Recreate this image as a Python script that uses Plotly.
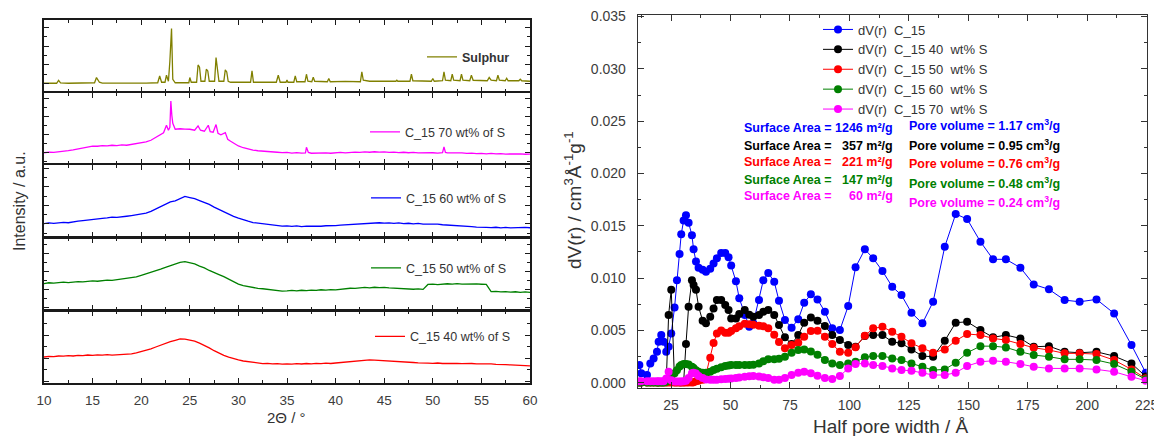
import plotly.graph_objects as go

# ------------------------------------------------------------------
# Left panel : XRD patterns (2-theta in degrees, intensity in a.u.)
# ------------------------------------------------------------------
TWO_THETA = [10.0, 10.5, 11.0, 11.5, 12.0, 12.5, 13.0, 13.5, 14.0, 14.5,
             15.0, 15.5, 16.0, 16.5, 17.0, 17.5, 18.0, 18.5, 19.0, 19.5,
             20.0, 20.5, 21.0, 21.5, 22.0, 22.5, 23.0, 23.5, 24.0, 24.5,
             25.0, 25.5, 26.0, 26.5, 27.0, 27.5, 28.0, 28.5, 29.0, 29.5,
             30.0, 30.5, 31.0, 31.5, 32.0, 32.5, 33.0, 33.5, 34.0, 34.5,
             35.0, 35.5, 36.0, 36.5, 37.0, 37.5, 38.0, 38.5, 39.0, 39.5,
             40.0, 40.5, 41.0, 41.5, 42.0, 42.5, 43.0, 43.5, 44.0, 44.5,
             45.0, 45.5, 46.0, 46.5, 47.0, 47.5, 48.0, 48.5, 49.0, 49.5,
             50.0, 50.5, 51.0, 51.5, 52.0, 52.5, 53.0, 53.5, 54.0, 54.5,
             55.0, 55.5, 56.0, 56.5, 57.0, 57.5, 58.0, 58.5, 59.0, 59.5,
             60.0]

I_60WT = [13.2, 13.9, 13.4, 14.1, 14.4, 14.0, 15.0, 15.6, 16.2, 16.9,
          17.3, 18.1, 18.4, 18.9, 19.6, 19.3, 20.2, 20.5, 21.2, 21.8,
          22.6, 23.6, 25.4, 27.9, 30.2, 32.6, 34.8, 35.9, 38.0, 40.3,
          39.2, 38.1, 36.2, 34.5, 32.3, 29.6, 27.2, 25.1, 22.7, 20.4,
          18.7, 16.8, 15.6, 14.2, 13.7, 12.8, 12.4, 11.6, 11.3, 10.7,
          10.9, 10.4, 10.8, 10.2, 10.6, 10.4, 10.9, 10.5, 11.0, 10.7,
          11.1, 11.6, 11.9, 12.3, 12.6, 13.1, 13.4, 13.8, 13.5, 14.0,
          13.6, 13.9, 13.4, 13.8, 13.2, 13.5, 12.9, 13.3, 12.7, 12.9,
          12.4, 12.6, 12.0, 11.8, 11.4, 11.0, 10.7, 10.3, 10.1, 9.7,
          9.8, 9.4, 9.1, 9.5, 8.9, 9.3, 8.8, 9.2, 8.9, 9.3,
          9.0]

I_50WT = [26.2, 27.0, 26.6, 27.3, 27.6, 27.1, 27.9, 28.2, 27.8, 28.6,
          28.9, 28.5, 29.3, 29.7, 29.4, 30.1, 30.5, 30.9, 31.6, 32.8,
          34.3, 35.7, 37.4, 38.8, 40.6, 42.3, 44.2, 45.6, 47.4, 48.1,
          47.2, 45.8, 43.6, 41.9, 39.3, 37.6, 35.2, 33.1, 30.4, 27.8,
          25.6, 24.1, 23.0, 22.3, 21.4, 21.0, 20.3, 19.7, 19.4, 18.7,
          18.9, 19.3, 18.8, 19.5, 19.2, 19.7, 19.4, 20.0, 19.6, 20.2,
          19.9, 20.6, 20.9, 21.5, 21.3, 22.0, 22.3, 21.9, 22.5, 22.1,
          22.4, 21.8, 21.5, 21.2, 20.9, 21.1, 20.5, 20.8, 20.4, 25.3,
          25.7, 25.2, 25.8, 26.0, 25.6, 26.1, 25.7, 25.9, 25.4, 25.8,
          25.5, 25.3, 18.1, 18.4, 17.9, 18.2, 17.6, 18.0, 17.4, 17.8,
          17.3]

I_40WT = [26.0, 26.7, 26.3, 27.0, 26.8, 27.4, 27.0, 27.6, 27.3, 28.0,
          27.7, 28.2, 27.8, 28.4, 27.9, 28.3, 28.1, 28.7, 29.2, 30.1,
          31.4, 32.6, 34.2, 36.0, 37.9, 39.8, 41.3, 42.7, 44.1, 43.8,
          43.2, 41.9, 39.8, 37.6, 35.1, 32.3, 29.8, 27.6, 25.9, 24.3,
          23.1, 22.0, 21.2, 20.4, 19.9, 19.4, 19.6, 19.1, 19.4, 18.9,
          19.2, 18.8, 19.3, 19.0, 19.5, 19.1, 19.6, 19.3, 19.8, 19.5,
          20.0, 20.4, 20.7, 21.2, 21.6, 22.4, 22.2, 23.1, 22.8, 22.6,
          22.3, 22.0, 21.4, 21.6, 21.0, 20.8, 20.5, 20.2, 20.4, 19.9,
          19.7, 20.0, 19.5, 19.8, 19.4, 19.7, 19.3, 19.6, 19.5, 19.1,
          19.3, 18.9, 19.1, 18.6, 18.8, 18.3, 18.1, 17.8, 17.6, 17.4,
          17.2]

THETA_70WT = [10.0, 10.5, 11.0, 11.5, 12.0, 12.5, 13.0, 13.5, 14.0, 14.5,
              15.0, 15.5, 16.0, 16.5, 17.0, 17.5, 18.0, 18.5, 19.0, 19.5,
              20.0, 20.5, 21.0, 21.5, 22.0, 22.3, 22.6, 22.8, 22.95, 23.05,
              23.15, 23.25, 23.5, 24.0, 24.5, 25.0, 25.5, 25.85, 26.1, 26.5,
              26.9, 27.1, 27.4, 27.7, 27.9, 28.2, 28.65, 28.9, 29.2, 29.5,
              30.0, 30.5, 31.0, 31.5, 32.0, 32.5, 33.0, 33.5, 34.0, 34.5,
              35.0, 35.5, 36.0, 36.5, 36.9, 37.0, 37.2, 37.5, 38.0, 38.5,
              39.0, 39.5, 40.0, 40.5, 41.0, 41.5, 42.0, 42.5, 43.0, 43.5,
              44.0, 44.5, 45.0, 45.5, 46.0, 46.5, 47.0, 47.5, 48.0, 48.5,
              49.0, 49.5, 50.0, 50.5, 51.0, 51.15, 51.3, 51.5, 52.0, 52.5,
              53.0, 53.5, 54.0, 54.5, 55.0, 55.5, 56.0, 56.5, 57.0, 57.5,
              58.0, 58.5, 59.0, 59.5, 60.0]
I_70WT = [10.5, 11.2, 10.9, 11.7, 12.0, 12.6, 13.3, 14.2, 15.0, 16.1,
          17.2, 17.0, 17.6, 17.3, 18.0, 17.7, 18.3, 18.0, 18.8, 19.5,
          20.6, 21.4, 23.0, 25.8, 29.0, 30.5, 38.0, 33.0, 36.0, 62.3,
          48.0, 40.0, 34.0, 34.5, 34.2, 34.0, 33.0, 37.3, 33.0, 32.0,
          38.0, 31.5, 31.0, 38.7, 30.0, 28.5, 30.7, 24.0, 22.0, 20.2,
          17.3, 15.5, 14.0, 13.2, 12.5, 12.3, 11.8, 11.2, 11.0, 10.6,
          10.8, 10.2, 10.6, 10.1, 10.4, 16.0, 10.8, 10.0, 10.3, 9.9,
          10.4, 10.0, 10.5, 10.8, 10.4, 10.9, 11.2, 10.8, 11.4, 11.0,
          11.5, 11.1, 11.4, 10.9, 11.2, 10.7, 11.0, 10.5, 10.8, 10.3,
          10.6, 10.2, 10.5, 10.1, 10.6, 16.3, 10.8, 10.3, 10.5, 10.0,
          10.3, 9.8, 10.2, 9.6, 9.9, 9.4, 9.8, 9.3, 9.7, 9.2,
          9.5, 9.1, 9.4, 9.0, 9.2]

THETA_S = [10.0, 10.8, 11.3, 11.5, 11.7, 12.5, 13.4, 14.2, 15.2, 15.4,
           15.7, 16.0, 17.5, 19.0, 20.5, 21.7, 21.9, 22.1, 22.45, 22.6,
           22.8, 22.95, 23.05, 23.12, 23.25, 23.5, 24.9, 25.0, 25.15, 25.7,
           25.85, 26.0, 26.15, 26.55, 26.7, 26.85, 27.0, 27.55, 27.7, 27.85,
           28.0, 28.5, 28.65, 28.8, 28.95, 29.2, 31.25, 31.4, 31.55, 33.9,
           34.1, 34.3, 34.9, 35.0, 35.1, 35.7, 35.85, 36.0, 36.85, 37.0,
           37.15, 37.55, 37.7, 37.85, 39.15, 39.3, 39.45, 41.0, 42.55, 42.7,
           42.85, 43.5, 45.0, 46.2, 46.3, 46.4, 47.65, 47.8, 47.95, 49.85,
           50.0, 50.15, 51.0, 51.15, 51.3, 51.85, 52.0, 52.15, 52.8, 52.95,
           53.1, 53.8, 53.97, 54.15, 55.6, 55.8, 56.0, 56.55, 56.7, 56.85,
           57.45, 57.6, 57.75, 58.85, 59.0, 59.15, 60.0]
I_S = [8.0, 8.3, 8.0, 10.8, 8.4, 8.0, 8.3, 7.9, 8.5, 13.7,
       9.0, 8.2, 8.0, 8.3, 8.1, 8.5, 15.3, 9.0, 9.0, 16.0,
       10.0, 30.0, 45.3, 62.7, 12.0, 8.5, 8.5, 13.7, 9.0, 9.0,
       26.3, 24.0, 10.0, 10.0, 22.0, 20.3, 10.0, 10.0, 33.7, 22.0,
       10.0, 10.0, 21.3, 19.3, 10.0, 9.0, 9.0, 20.3, 9.0, 9.0,
       16.0, 9.0, 9.0, 11.3, 9.0, 9.0, 15.3, 9.5, 9.5, 17.0,
       10.0, 9.5, 14.0, 10.0, 9.5, 12.7, 9.5, 9.8, 9.5, 19.3,
       11.0, 10.0, 9.8, 10.0, 11.0, 10.0, 10.0, 17.0, 10.5, 10.0,
       12.7, 10.0, 10.5, 19.3, 11.0, 10.5, 17.0, 11.0, 10.5, 17.0,
       11.0, 10.5, 16.0, 11.0, 10.5, 13.7, 11.0, 10.5, 16.0, 11.0,
       10.5, 13.0, 10.5, 10.5, 12.0, 10.5, 10.0]

XRD_LABELS = ["Sulphur", "C_15 70 wt% of S", "C_15 60 wt% of S",
              "C_15 50 wt% of S", "C_15 40 wt% of S"]

# ------------------------------------------------------------------
# Right panel : pore size distributions dV(r)
# ------------------------------------------------------------------
HALF_PORE_WIDTH = [11.7, 12.5, 14.9, 16.3, 17.7, 19.1, 19.8, 20.9, 21.9, 23.0,
                   24.0, 25.1, 26.5, 27.5, 28.6, 29.3, 30.3, 31.3, 32.4, 33.8,
                   34.5, 35.5, 36.6, 38.3, 39.7, 41.5, 42.9, 44.3, 46.1, 47.8,
                   49.2, 50.3, 52.3, 53.7, 56.0, 57.9, 59.6, 62.0, 63.8, 65.9,
                   68.4, 70.4, 72.9, 75.7, 78.5, 81.0, 83.8, 86.6, 89.7, 92.8,
                   96.0, 99.5, 102.6, 106.5, 110.0, 113.9, 118.0, 121.9, 126.1, 130.7,
                   135.2, 140.1, 144.7, 149.5, 155.1, 160.4, 165.8, 171.9, 177.5, 183.9,
                   190.5, 196.8, 203.9, 211.3, 218.6, 224.6]

DV_C15 = [0.00169, 0.00090, 0.00074, 0.00185, 0.00233, 0.00296, 0.00392, 0.00456, 0.00392, 0.00296,
          0.00344, 0.00472, 0.00720, 0.00980, 0.01230, 0.01420, 0.01550, 0.01600, 0.01530, 0.01410,
          0.01275, 0.01160, 0.01100, 0.01080, 0.01060, 0.01090, 0.01140, 0.01190, 0.01240, 0.01240,
          0.01200, 0.01120, 0.00970, 0.00807, 0.00647, 0.00535, 0.00570, 0.00790, 0.00980, 0.01050,
          0.00966, 0.00784, 0.00600, 0.00526, 0.00606, 0.00765, 0.00845, 0.00797, 0.00679, 0.00520,
          0.00504, 0.00733, 0.01103, 0.01275, 0.01190, 0.01068, 0.00918, 0.00838, 0.00669, 0.00568,
          0.00774, 0.01300, 0.01613, 0.01565, 0.01348, 0.01180, 0.01180, 0.01100, 0.00940, 0.00893,
          0.00790, 0.00774, 0.00797, 0.00663, 0.00360, 0.00096]

DV_40WT = [0.00005, 0.00005, 0.00005, 0.00005, 0.00005, 0.00005, 0.00005, 0.00005, 0.00005, 0.00005,
           0.00647, 0.00890, 0.00005, 0.00005, 0.00005, 0.00005, 0.00005, 0.00370, 0.00727, 0.00980,
           0.00934, 0.00890, 0.00727, 0.00593, 0.00568, 0.00630, 0.00710, 0.00790, 0.00790, 0.00743,
           0.00695, 0.00615, 0.00615, 0.00657, 0.00695, 0.00650, 0.00630, 0.00647, 0.00679, 0.00695,
           0.00647, 0.00552, 0.00434, 0.00370, 0.00456, 0.00574, 0.00625, 0.00593, 0.00542, 0.00456,
           0.00408, 0.00360, 0.00344, 0.00446, 0.00456, 0.00456, 0.00392, 0.00377, 0.00319, 0.00255,
           0.00249, 0.00402, 0.00574, 0.00583, 0.00504, 0.00434, 0.00456, 0.00424, 0.00344, 0.00350,
           0.00296, 0.00287, 0.00296, 0.00255, 0.00185, 0.00060]

DV_50WT = [0.00003, 0.00003, 0.00003, 0.00003, 0.00003, 0.00003, 0.00003, 0.00003, 0.00003, 0.00003,
           0.00003, 0.00003, 0.00003, 0.00003, 0.00003, 0.00003, 0.00003, 0.00003, 0.00003, 0.00003,
           0.00005, 0.00015, 0.00020, 0.00030, 0.00080, 0.00240, 0.00380, 0.00472, 0.00500, 0.00478,
           0.00478, 0.00495, 0.00520, 0.00540, 0.00565, 0.00560, 0.00555, 0.00545, 0.00540, 0.00520,
           0.00460, 0.00390, 0.00329, 0.00360, 0.00382, 0.00440, 0.00495, 0.00497, 0.00440, 0.00370,
           0.00296, 0.00287, 0.00340, 0.00450, 0.00520, 0.00535, 0.00488, 0.00440, 0.00377, 0.00329,
           0.00287, 0.00319, 0.00402, 0.00466, 0.00456, 0.00424, 0.00408, 0.00370, 0.00335, 0.00313,
           0.00281, 0.00281, 0.00274, 0.00217, 0.00128, 0.00042]

DV_60WT = [0.00002, 0.00002, 0.00002, 0.00002, 0.00002, 0.00002, 0.00002, 0.00002, 0.00002, 0.00010,
           0.00030, 0.00050, 0.00090, 0.00120, 0.00155, 0.00170, 0.00179, 0.00180, 0.00175, 0.00153,
           0.00140, 0.00120, 0.00105, 0.00096, 0.00095, 0.00105, 0.00121, 0.00135, 0.00148, 0.00160,
           0.00165, 0.00169, 0.00169, 0.00169, 0.00169, 0.00169, 0.00172, 0.00185, 0.00205, 0.00224,
           0.00224, 0.00230, 0.00249, 0.00287, 0.00313, 0.00319, 0.00300, 0.00268, 0.00217, 0.00185,
           0.00169, 0.00185, 0.00200, 0.00243, 0.00255, 0.00255, 0.00233, 0.00217, 0.00185, 0.00153,
           0.00121, 0.00128, 0.00191, 0.00287, 0.00350, 0.00350, 0.00338, 0.00296, 0.00265, 0.00249,
           0.00224, 0.00224, 0.00217, 0.00179, 0.00105, 0.00033]

DV_70WT = [0.00015, 0.00015, 0.00015, 0.00015, 0.00015, 0.00015, 0.00015, 0.00015, 0.00015, 0.00040,
           0.00105, 0.00025, 0.00012, 0.00012, 0.00012, 0.00012, 0.00015, 0.00020, 0.00045, 0.00090,
           0.00096, 0.00088, 0.00065, 0.00045, 0.00032, 0.00030, 0.00030, 0.00030, 0.00033, 0.00035,
           0.00038, 0.00040, 0.00045, 0.00050, 0.00058, 0.00062, 0.00064, 0.00060, 0.00052, 0.00045,
           0.00030, 0.00030, 0.00045, 0.00074, 0.00096, 0.00105, 0.00092, 0.00066, 0.00045, 0.00035,
           0.00064, 0.00137, 0.00180, 0.00185, 0.00169, 0.00160, 0.00137, 0.00121, 0.00115, 0.00096,
           0.00074, 0.00074, 0.00096, 0.00160, 0.00201, 0.00210, 0.00201, 0.00179, 0.00153, 0.00137,
           0.00137, 0.00137, 0.00128, 0.00105, 0.00057, 0.00020]

PSD_LABELS = ["dV(r)  C_15", "dV(r)  C_15 40  wt% S", "dV(r)  C_15 50  wt% S",
              "dV(r)  C_15 60  wt% S", "dV(r)  C_15 70  wt% S"]
SURFACE_AREA = ["1246", "357", "221", "147", "60"]
PORE_VOLUME = ["1.17", "0.95", "0.76", "0.48", "0.24"]

COLORS = ["#0000ff", "#000000", "#ff0000", "#008000", "#ff00ff"]
FONT = "Liberation Sans, Arial, sans-serif"

# The page body keeps its default 8 px margin, so the figure is drawn
# 8 px right/down of the window corner; positions below are given in
# window pixels and converted to paper fractions.
OFF = 8
W, H = 1162 - OFF, 436 - OFF


def px(x):
    return (x - OFF) / W


def py(y):
    return 1 - (y - OFF) / H


fig = go.Figure()

# ---------------- left panel traces ----------------
xrd = [
    (THETA_S, I_S, "#808000", "x5", "y5", "legend6"),
    (THETA_70WT, I_70WT, "#ff00ff", "x4", "y4", "legend5"),
    (TWO_THETA, I_60WT, "#0000ff", "x3", "y3", "legend4"),
    (TWO_THETA, I_50WT, "#008000", "x2", "y2", "legend3"),
    (TWO_THETA, I_40WT, "#ff0000", "x", "y", "legend2"),
]
for (xs, ys, col, xa, ya, lg), name in zip(xrd, XRD_LABELS):
    fig.add_trace(go.Scatter(x=xs, y=ys, mode="lines", name=name,
                             line=dict(color=col, width=1.3),
                             xaxis=xa, yaxis=ya, legend=lg, showlegend=True))

# ---------------- right panel traces ----------------
for ys, name, col in zip([DV_C15, DV_40WT, DV_50WT, DV_60WT, DV_70WT], PSD_LABELS, COLORS):
    fig.add_trace(go.Scatter(x=HALF_PORE_WIDTH, y=ys, mode="lines+markers", name=name,
                             line=dict(color=col, width=1),
                             marker=dict(color=col, size=8, symbol="circle"),
                             xaxis="x6", yaxis="y6", legend="legend", showlegend=True))

# ---------------- axes ----------------
LEFT_X = [px(44), px(530)]
panel_edges = [383, 310.5, 237.5, 164, 92, 20]  # bottom -> top (window pixels)
y_ticks = [  # (tick0, dtick) per panel, bottom -> top
    (24.7, 23.3), (19.8, 18.0), (13.0, 18.5), (10.7, 18.0), (7.7, 18.7)
]
LW = 1.5
axis_line = "#1a1a1a"
tickfont_l = dict(family=FONT, size=13.5, color="#3c3c3c")
tickfont_r = dict(family=FONT, size=14, color="#3c3c3c")
layout = {}
for i in range(5):
    suffix = "" if i == 0 else str(i + 1)
    bottom, top = panel_edges[i], panel_edges[i + 1]
    # shrink by half a line width at shared edges so neighbouring frame lines coincide
    b_adj = bottom if i == 0 else bottom - LW / 2
    t_adj = top if i == 4 else top + LW / 2
    t0, dt = y_ticks[i]
    layout["xaxis" + suffix] = dict(
        domain=LEFT_X, range=[10, 60], anchor="y" + suffix,
        showline=True, linecolor=axis_line, linewidth=LW, mirror="ticks",
        ticks="inside", ticklen=5, tickwidth=1.2, tickcolor=axis_line,
        tick0=10, dtick=5, showticklabels=(i == 0), tickfont=tickfont_l,
        ticklabelstandoff=4,
        minor=dict(ticks="inside", ticklen=3, dtick=2.5, tick0=10, tickcolor=axis_line),
        showgrid=False, zeroline=False, fixedrange=True,
        matches=None if i == 0 else "x")
    layout["yaxis" + suffix] = dict(
        domain=[py(b_adj), py(t_adj)], range=[0, b_adj - t_adj], anchor="x" + suffix,
        showline=True, linecolor=axis_line, linewidth=LW, mirror="ticks",
        ticks="inside", ticklen=5, tickwidth=1.2, tickcolor=axis_line,
        tick0=t0, dtick=dt, showticklabels=False,
        minor=dict(ticks="inside", ticklen=3, dtick=dt / 2, tick0=t0, tickcolor=axis_line),
        showgrid=False, zeroline=False, fixedrange=True)

layout["xaxis6"] = dict(
    domain=[px(637.7), px(1146.7)], range=[11, 225], anchor="y6",
    showline=True, linecolor="#333333", linewidth=1, mirror="ticks",
    ticks="inside", ticklen=6, tickcolor="#333333", tick0=25, dtick=25,
    tickfont=tickfont_r, ticklabelstandoff=4,
    minor=dict(ticks="inside", ticklen=3, dtick=12.5, tick0=12.5, tickcolor="#333333"),
    showgrid=False, zeroline=False)
layout["yaxis6"] = dict(
    domain=[py(388), py(15)], range=[-0.0005, 0.03515], anchor="x6",
    showline=True, linecolor="#333333", linewidth=1, mirror="ticks",
    ticks="inside", ticklen=6, tickcolor="#333333", tick0=0, dtick=0.005,
    tickformat=".3f", tickfont=tickfont_r, ticklabelstandoff=8,
    minor=dict(ticks="inside", ticklen=3, dtick=0.0025, tick0=0, tickcolor="#333333"),
    showgrid=False, zeroline=False)

# ---------------- legends ----------------
leg_common = dict(bgcolor="rgba(0,0,0,0)", borderwidth=0, xanchor="left",
                  yanchor="middle", itemclick=False, itemdoubleclick=False)
layout["legend"] = dict(x=px(818), y=py(69.5), font=dict(family=FONT, size=13, color="#333333"),
                        tracegroupgap=0, **leg_common)
left_leg = [("legend6", 422, 57.3, True), ("legend5", 365, 132.3, False),
            ("legend4", 366, 198.3, False), ("legend3", 366, 268.3, False),
            ("legend2", 370, 336.7, False)]
for name, lx, ly, bold in left_leg:
    layout[name] = dict(x=px(lx), y=py(ly),
                        font=dict(family=FONT, size=12.5, color="#333333",
                                  weight="bold" if bold else "normal"),
                        **leg_common)

# ---------------- annotations ----------------
ann = []
sa_y = [128.3, 146, 162.3, 180, 196]
pv_y = [125, 145, 163.3, 183.3, 201.7]
for sa, pv, col, ya, yb in zip(SURFACE_AREA, PORE_VOLUME, COLORS, sa_y, pv_y):
    f = dict(family=FONT, size=12.5, color=col, weight="bold")
    ann.append(dict(x=px(742), y=py(ya), xref="paper", yref="paper", xanchor="left",
                    yanchor="middle", text="Surface Area =", showarrow=False, font=f))
    ann.append(dict(x=px(895), y=py(ya), xref="paper", yref="paper", xanchor="right",
                    yanchor="middle", text=f"{sa} m²/g", showarrow=False, font=f))
    ann.append(dict(x=px(907), y=py(yb), xref="paper", yref="paper", xanchor="left",
                    yanchor="middle", text=f"Pore volume = {pv} cm<sup>3</sup>/g",
                    showarrow=False, font=f))

title_font = dict(family=FONT, color="#333333")
common_t = dict(xref="paper", yref="paper", xanchor="center", yanchor="middle", showarrow=False)
ann.append(dict(x=px(19), y=py(201), text="Intensity / a.u.", textangle=-90,
                font=dict(size=16, **title_font), **common_t))
ann.append(dict(x=px(286), y=py(417), text="2Θ / °",
                font=dict(size=15, **title_font), **common_t))
ann.append(dict(x=px(573), y=py(200),
                text="dV(r) / cm<sup>3</sup>Å<sup>-1</sup>g<sup>-1</sup>",
                textangle=-90, font=dict(size=19, **title_font), **common_t))
ann.append(dict(x=px(891), y=py(426), text="Half pore width / Å",
                font=dict(size=19, **title_font), **common_t))

fig.update_layout(
    width=W, height=H, template="none",
    margin=dict(l=0, r=0, t=0, b=0, autoexpand=False),
    paper_bgcolor="white", plot_bgcolor="white",
    font=dict(family=FONT),
    annotations=ann,
    **layout)

fig.write_html("out.html")
